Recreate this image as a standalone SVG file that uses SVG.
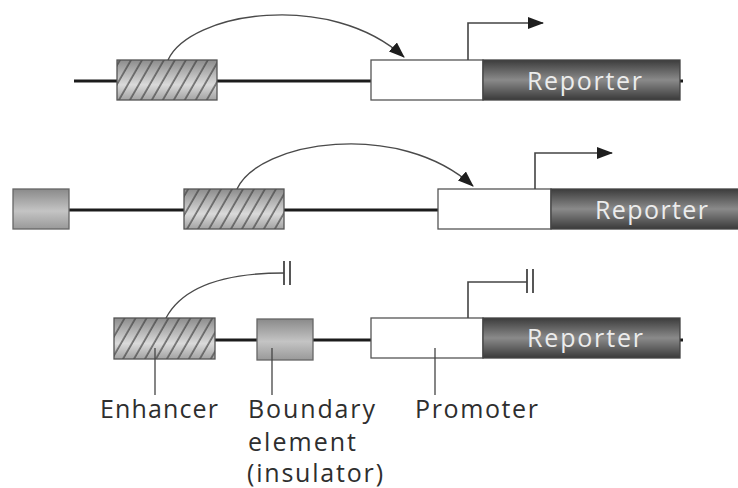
<svg xmlns="http://www.w3.org/2000/svg" width="738" height="488" viewBox="0 0 738 488">
  <defs>
    <style>
      .dna { stroke: #1c1c1c; stroke-width: 3.2; fill: none; }
      .prom { fill: #fff; stroke: #555; stroke-width: 1.3; }
      .enh { fill: url(#enhGrad); }
      .hatch { fill: url(#hatch); stroke: #555; stroke-width: 1.3; }
      .bnd { fill: url(#bndGrad); stroke: #666; stroke-width: 1.3; }
      .rep { fill: url(#repGrad); stroke: #444; stroke-width: 1.3; }
      .rep-text { font-family: "Open Sans", "Noto Sans", sans-serif; font-size: 25px; fill: #ececec; }
      .lbl { font-family: "Open Sans", "Noto Sans", sans-serif; font-size: 25px; fill: #2e2e2e; }
      .arc { stroke: #4a4a4a; stroke-width: 1.4; fill: none; }
      .tss { stroke: #444; stroke-width: 1.6; fill: none; }
      .bar { stroke: #444; stroke-width: 1.8; }
      .lead { stroke: #444; stroke-width: 1.3; }
    </style>
    <linearGradient id="enhGrad" x1="0" y1="0" x2="0" y2="1">
      <stop offset="0" stop-color="#8c8c8c"/>
      <stop offset="0.62" stop-color="#dadada"/>
      <stop offset="1" stop-color="#a3a3a3"/>
    </linearGradient>
    <linearGradient id="bndGrad" x1="0" y1="0" x2="0" y2="1">
      <stop offset="0" stop-color="#8a8a8a"/>
      <stop offset="0.55" stop-color="#c4c4c4"/>
      <stop offset="1" stop-color="#999"/>
    </linearGradient>
    <linearGradient id="repGrad" x1="0" y1="0" x2="0" y2="1">
      <stop offset="0" stop-color="#3c3c3c"/>
      <stop offset="0.5" stop-color="#8a8a8a"/>
      <stop offset="1" stop-color="#3a3a3a"/>
    </linearGradient>
    <pattern id="hatch" patternUnits="userSpaceOnUse" width="9.5" height="9.5" patternTransform="rotate(30)">
      <line x1="1" y1="0" x2="1" y2="9.5" stroke="#3f3f3f" stroke-width="1.2"/>
    </pattern>
    <marker id="head" markerWidth="16" markerHeight="12" refX="15" refY="6" orient="auto" markerUnits="userSpaceOnUse">
      <path d="M0,0 L16,6 L0,12 Z" fill="#1e1e1e"/>
    </marker>
  </defs>

  <!-- DNA backbones -->
  <g id="dna">
    <line class="dna" x1="74" y1="81" x2="683" y2="81"/>
    <line class="dna" x1="69" y1="210" x2="600" y2="210"/>
    <line class="dna" x1="215" y1="340" x2="683" y2="340"/>
  </g>

  <!-- Construct 1 -->
  <g id="enhancer1">
    <rect class="enh" x="117" y="60" width="100" height="40"/>
    <rect class="hatch" x="117" y="60" width="100" height="40"/>
  </g>
  <g id="promoter1"><rect class="prom" x="371" y="60" width="112" height="40"/></g>
  <g id="reporter1">
    <rect class="rep" x="483" y="60" width="197" height="40"/>
    <text class="rep-text" x="527" y="90" textLength="115">Reporter</text>
  </g>

  <!-- Construct 2 -->
  <g id="boundary2"><rect class="bnd" x="13" y="189" width="56" height="40"/></g>
  <g id="enhancer2">
    <rect class="enh" x="184" y="189" width="100" height="40"/>
    <rect class="hatch" x="184" y="189" width="100" height="40"/>
  </g>
  <g id="promoter2"><rect class="prom" x="438" y="189" width="113" height="40"/></g>
  <g id="reporter2">
    <rect class="rep" x="551" y="189" width="200" height="40"/>
    <text class="rep-text" x="595" y="219" textLength="113">Reporter</text>
  </g>

  <!-- Construct 3 -->
  <g id="enhancer3">
    <rect class="enh" x="114" y="318" width="101" height="41"/>
    <rect class="hatch" x="114" y="318" width="101" height="41"/>
  </g>
  <g id="boundary3"><rect class="bnd" x="257" y="319" width="56" height="41"/></g>
  <g id="promoter3"><rect class="prom" x="371" y="318" width="112" height="40"/></g>
  <g id="reporter3">
    <rect class="rep" x="483" y="318" width="197" height="40"/>
    <text class="rep-text" x="527" y="347" textLength="116">Reporter</text>
  </g>

  <!-- Connectors: enhancer action, transcription starts, label leaders -->
  <g id="connectors">
    <path class="arc" d="M168,60 C190,12 330,-10 404,57" marker-end="url(#head)"/>
    <path class="tss" d="M468,60 V23 H543" marker-end="url(#head)"/>

    <path class="arc" d="M237,189 C259,141 399,119 473,186" marker-end="url(#head)"/>
    <path class="tss" d="M535,189 V153 H612" marker-end="url(#head)"/>

    <path class="arc" d="M166,318 C182,288 222,273 284,273"/>
    <line class="bar" x1="284" y1="261" x2="284" y2="285"/>
    <line class="bar" x1="290" y1="261" x2="290" y2="285"/>

    <path class="tss" d="M468,318 V282 H527"/>
    <line class="bar" x1="527" y1="269" x2="527" y2="293"/>
    <line class="bar" x1="533" y1="269" x2="533" y2="293"/>

    <line class="lead" x1="155" y1="348" x2="155" y2="395"/>
    <line class="lead" x1="272" y1="348" x2="272" y2="395"/>
    <line class="lead" x1="435" y1="348" x2="435" y2="395"/>
  </g>

  <!-- Labels -->
  <g id="labels">
    <text class="lbl" x="100" y="418" textLength="118">Enhancer</text>
    <text class="lbl" x="248" y="418" textLength="127">Boundary</text>
    <text class="lbl" x="248" y="451" textLength="108">element</text>
    <text class="lbl" x="247" y="482" textLength="136">(insulator)</text>
    <text class="lbl" x="415" y="418" textLength="123">Promoter</text>
  </g>
</svg>
